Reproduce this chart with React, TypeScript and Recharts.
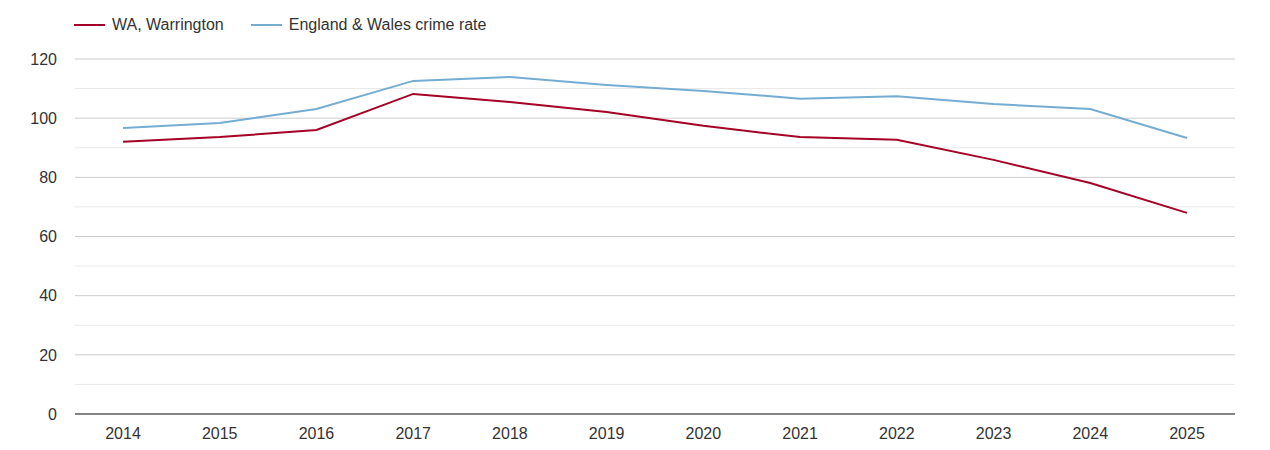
import React from 'react';
import { LineChart, Line, XAxis, YAxis, CartesianGrid, Legend, ReferenceLine } from 'recharts';

const years = ['2014', '2015', '2016', '2017', '2018', '2019', '2020', '2021', '2022', '2023', '2024', '2025'];
const warrington = [92, 93.6, 96, 108.2, 105.5, 102.1, 97.4, 93.6, 92.7, 85.9, 78.1, 68];
const englandWales = [96.7, 98.4, 103.1, 112.6, 113.9, 111.2, 109.2, 106.6, 107.4, 104.8, 103.1, 93.3];
const majorTicks = [0, 20, 40, 60, 80, 100, 120];
const minorGrid = [10, 30, 50, 70, 90, 110];

const seriesInfo = [
  { key: 'warrington', name: 'WA, Warrington', color: '#a50026' },
  { key: 'englandWales', name: 'England & Wales crime rate', color: '#74add1' },
];

const data = years.map((year, i) => ({
  year,
  warrington: warrington[i],
  englandWales: englandWales[i],
}));

const LegendContent = () => (
  <div style={{ height: 49, display: 'flex', alignItems: 'flex-start', paddingTop: 6, paddingLeft: 74, boxSizing: 'border-box' }}>
    {seriesInfo.map(s => (
      <div key={s.key} style={{ display: 'flex', alignItems: 'center', marginRight: 27, height: 18 }}>
        <span style={{ display: 'inline-block', width: 31, height: 2, background: s.color, marginRight: 7 }} />
        <span style={{ fontSize: 16, color: '#333' }}>{s.name}</span>
      </div>
    ))}
  </div>
);

export default function App() {
  return (
    <div style={{ fontFamily: '"Liberation Sans", Arial, sans-serif' }}>
      <style>{'body { margin: 0; }'}</style>
      <LineChart width={1270} height={450} data={data} margin={{ top: 10, right: 35, left: 0, bottom: 6 }}>
        <CartesianGrid vertical={false} stroke="#cccccc" />
        {minorGrid.map(v => (
          <ReferenceLine key={v} y={v} stroke="#e8e8e8" />
        ))}
        <XAxis
          dataKey="year"
          height={30}
          padding={{ left: 48, right: 48 }}
          tickLine={false}
          axisLine={{ stroke: '#222' }}
          tick={{ fill: '#333', fontSize: 16 }}
          tickMargin={8}
        />
        <YAxis
          width={75}
          domain={[0, 120]}
          ticks={majorTicks}
          axisLine={false}
          tickLine={false}
          tickMargin={12}
          tick={{ fill: '#333', fontSize: 16 }}
        />
        <Legend verticalAlign="top" align="left" content={<LegendContent />} />
        {seriesInfo.map(s => (
          <Line
            key={s.key}
            type="linear"
            dataKey={s.key}
            name={s.name}
            stroke={s.color}
            strokeWidth={2}
            dot={false}
            activeDot={false}
            isAnimationActive={false}
          />
        ))}
      </LineChart>
    </div>
  );
}
